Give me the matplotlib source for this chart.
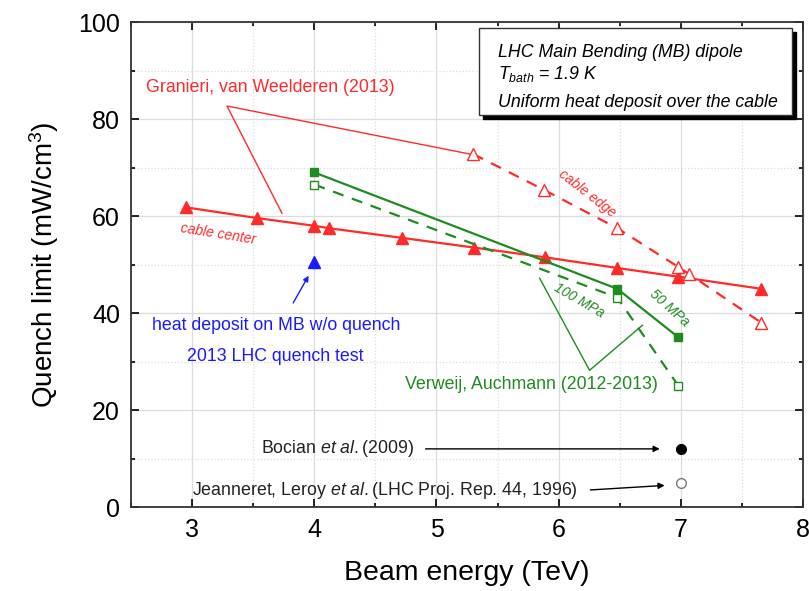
import matplotlib
matplotlib.use("Agg")
import matplotlib.pyplot as plt
from matplotlib.patches import Rectangle

plt.rcParams['font.family'] = ['Liberation Sans', 'DejaVu Sans']
plt.rcParams['mathtext.fontset'] = 'custom'
plt.rcParams['mathtext.rm'] = 'Liberation Sans'
plt.rcParams['mathtext.it'] = 'Liberation Sans:italic'

# cable center (Granieri, van Weelderen 2013)
center_e = [2.95, 3.53, 4.0, 4.12, 4.72, 5.31, 5.89, 6.48, 6.98, 7.66]
center_q = [61.8, 59.6, 58.0, 57.5, 55.5, 53.5, 51.5, 49.3, 47.5, 45.0]
# cable edge
edge_e = [5.3, 5.88, 6.48, 6.98, 7.07, 7.66]
edge_q = [72.8, 65.4, 57.5, 49.5, 48.0, 38.0]
# Verweij, Auchmann 50 MPa / 100 MPa
mpa50_e = [4.0, 6.48, 6.98]
mpa50_q = [69.0, 45.0, 35.0]
mpa100_e = [4.0, 6.48, 6.98]
mpa100_q = [66.5, 43.2, 25.0]
# single points
lhc_test = (4.0, 50.5)
bocian = (7.0, 12.0)
jeanneret = (7.0, 5.0)

red = '#ff2a2a'
green = '#1e8c1e'
blue = '#1a1aff'
fs = 12.8

fig = plt.figure(figsize=(8.09, 5.91), dpi=100)
ax = fig.add_axes([0.162, 0.142, 0.8306, 0.8206])

ax.plot(center_e, center_q, '-', color=red, lw=1.6, marker='^', ms=8, mfc=red, mec=red)
ax.plot(edge_e, edge_q, '--', color=red, lw=1.6, dashes=(5, 4), marker='^', ms=8, mfc='white', mec=red)
ax.plot(mpa50_e, mpa50_q, '-', color=green, lw=1.6, marker='s', ms=6, mfc=green, mec=green)
ax.plot(mpa100_e, mpa100_q, '--', color=green, lw=1.6, dashes=(5, 4), marker='s', ms=6, mfc='white', mec=green)
ax.plot(*lhc_test, '^', color=blue, ms=8)
ax.plot(*bocian, 'o', color='black', ms=7)
ax.plot(*jeanneret, 'o', mfc='white', mec='#777777', ms=7)

ax.set_xlim(2.5, 8)
ax.set_ylim(0, 100)
ax.set_xticks([3, 4, 5, 6, 7, 8])
ax.set_yticks([0, 20, 40, 60, 80, 100])
ax.set_xticks([2.5, 3.5, 4.5, 5.5, 6.5, 7.5], minor=True)
ax.set_yticks([10, 30, 50, 70, 90], minor=True)
ax.tick_params(which='both', direction='in', top=True, right=True, labelsize=18, width=1.2, pad=8)
ax.tick_params(which='major', length=6)
ax.tick_params(which='minor', length=3)
ax.grid(which='major', color='#dcdcdc', lw=0.9)
ax.grid(which='minor', color='#dcdcdc', lw=0.9, ls=':')
ax.set_axisbelow(True)
for s in ax.spines.values():
    s.set_linewidth(1.3)
    s.set_color('#333333')

ax.set_xlabel('Beam energy (TeV)', fontsize=20.5, labelpad=13)
ax.set_ylabel('Quench limit (mW/cm$^3$)', fontsize=20, labelpad=12)

# Granieri annotation
ax.text(3.64, 86.6, 'Granieri, van Weelderen (2013)', color=red, fontsize=fs, ha='center', va='center')
ax.plot([3.735, 3.285, 5.272], [60.6, 82.7, 72.8], color=red, lw=1.0)
ax.text(3.21, 56.3, 'cable center', color=red, fontsize=10, style='italic', rotation=-9, ha='center', va='center')
ax.text(6.23, 64.7, 'cable edge', color=red, fontsize=10, style='italic', rotation=-38, ha='center', va='center')

# Verweij annotation
ax.text(5.78, 25.2, 'Verweij, Auchmann (2012-2013)', color=green, fontsize=fs, ha='center', va='center')
ax.plot([5.844, 6.253, 6.686], [47.2, 28.2, 37.5], color=green, lw=1.0)
ax.text(6.17, 42.7, '100 MPa', color=green, fontsize=10, style='italic', rotation=-30, ha='center', va='center')
ax.text(6.91, 41.0, '50 MPa', color=green, fontsize=10, style='italic', rotation=-42, ha='center', va='center')

# LHC quench test
ax.text(3.69, 37.5, 'heat deposit on MB w/o quench', color=blue, fontsize=fs, ha='center', va='center')
ax.text(3.68, 31.1, '2013 LHC quench test', color=blue, fontsize=fs, ha='center', va='center')
ax.annotate('', xy=(3.964, 48.2), xytext=(3.816, 41.6),
            arrowprops=dict(arrowstyle='-|>', color=blue, lw=1.0, mutation_scale=8))

# literature points
ax.text(4.19, 12.0, r'Bocian $\mathit{et\ al.}$(2009)', color='#222222', fontsize=fs, ha='center', va='center')
ax.annotate('', xy=(6.85, 12.0), xytext=(4.888, 12.0),
            arrowprops=dict(arrowstyle='-|>', color='black', lw=1.0, mutation_scale=9))
ax.text(4.577, 3.5, r'Jeanneret, Leroy $\mathit{et\ al.}$(LHC Proj. Rep. 44, 1996)', color='#222222',
        fontsize=fs, ha='center', va='center')
ax.annotate('', xy=(6.89, 4.5), xytext=(6.237, 3.5),
            arrowprops=dict(arrowstyle='-|>', color='black', lw=1.0, mutation_scale=9))

# info box with shadow
ax.add_patch(Rectangle((0.524, 0.800), 0.466, 0.180, transform=ax.transAxes,
                       facecolor='black', edgecolor='black', zorder=5))
ax.add_patch(Rectangle((0.518, 0.808), 0.466, 0.180, transform=ax.transAxes,
                       facecolor='white', edgecolor='#333333', lw=1.0, zorder=6))
ax.text(0.546, 0.938, 'LHC Main Bending (MB) dipole', transform=ax.transAxes, fontsize=fs,
        style='italic', va='center', zorder=7)
ax.text(0.546, 0.893, r'$\mathit{T}_{\mathit{bath}}$ = 1.9 K', transform=ax.transAxes, fontsize=fs,
        style='italic', va='center', zorder=7)
ax.text(0.546, 0.835, 'Uniform heat deposit over the cable', transform=ax.transAxes, fontsize=fs,
        style='italic', va='center', zorder=7)

fig.savefig('out.png', dpi=100)
